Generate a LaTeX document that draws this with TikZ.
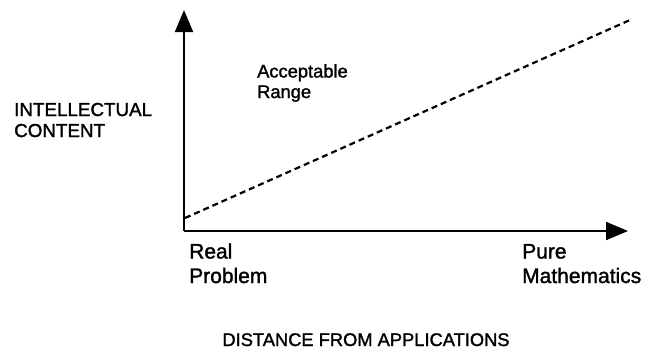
\documentclass[tikz,border=0pt]{standalone}
\usepackage{fontspec}
\setmainfont[FakeBold=1.5]{Liberation Sans}
\usetikzlibrary{arrows.meta}
\begin{document}
\begin{tikzpicture}[x=1pt,y=-1pt,
  axis/.style={line width=2pt,-{Triangle[length=22pt,width=18pt]}},
  trend/.style={line width=2.2pt,dash pattern=on 6pt off 4pt},
  lbl/.style={inner sep=0pt,anchor=base west,align=left},
  big/.style={font=\fontsize{21}{24.5}\selectfont},
  small/.style={font=\fontsize{18.3}{20.5}\selectfont}]
\useasboundingbox (0,0) rectangle (647,349);
\coordinate (o) at (184,231);
\coordinate (ytop) at (184,10);
\coordinate (xend) at (628,231);
\coordinate (ds) at (185,218);
\coordinate (de) at (630,20);
\draw[axis] (o) -- (ytop);
\draw[axis] (o) -- (xend);
\draw[trend] (ds) -- (de);
\node[lbl,small] (acc) at (257,98) {Acceptable\\Range};
\node[lbl,font=\fontsize{18.8}{21}\selectfont] (ic) at (14,137) {INTELLECTUAL\\CONTENT};
\node[lbl,big] (real) at (189,283) {Real\\Problem};
\node[lbl,big] (pure) at (522,283) {Pure\\Mathematics};
\node[inner sep=0pt,anchor=base,small] (dist) at (366,346) {DISTANCE FROM APPLICATIONS};
\end{tikzpicture}
\end{document}
